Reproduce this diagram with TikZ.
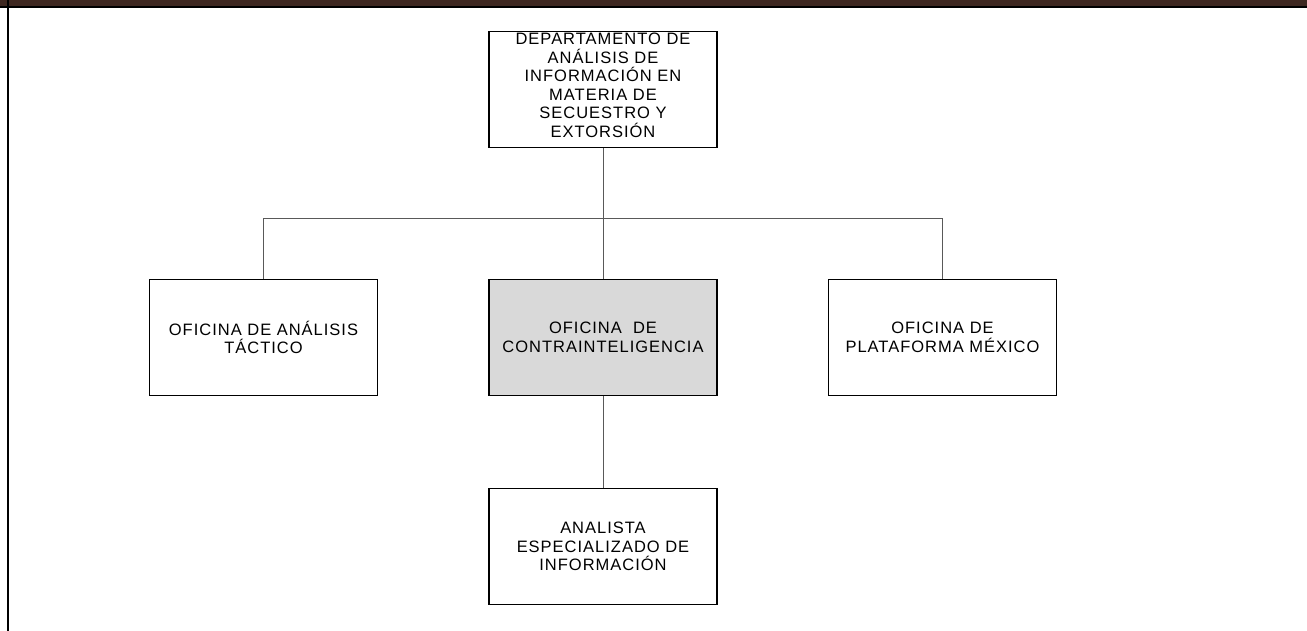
\documentclass[tikz,border=0pt]{standalone}
\usepackage{fontspec}
\setmainfont{Liberation Sans}[LetterSpace=6]
\usepackage{tikz}
\usetikzlibrary{calc}
\definecolor{barbrown}{HTML}{3E2720}
\definecolor{cigray}{HTML}{D9D9D9}
\tikzstyle{unit}=[draw=black,line width=1.6pt,fill=white,minimum width=228pt,minimum height=116pt,inner sep=0pt,align=center,font=\fontsize{16.5}{18.5}\selectfont]
\tikzstyle{conn}=[draw=black!65,line width=1pt]

\begin{document}
\begin{tikzpicture}[x=1pt,y=1pt]
      \useasboundingbox (0,0) rectangle (1307,-631);
      % marco de la pagina
      \fill[barbrown] (0,0) rectangle (1307,-7);
      \draw[line width=2pt] (0,-7.5) -- (1307,-7.5);
      \draw[line width=2pt] (8,0) -- (8,-631);

      % unidades
      \node[unit] (dep) at (603,-89.5) {DEPARTAMENTO DE\\ ANÁLISIS DE\\ INFORMACIÓN EN\\ MATERIA DE\\ SECUESTRO Y\\ EXTORSIÓN\\[-10pt]};
      \node[unit] (oat) at (263.5,-337.5) {OFICINA DE ANÁLISIS\\ TÁCTICO};
      \node[unit,fill=cigray] (ofc) at (603,-337.5) {OFICINA \ DE\\ CONTRAINTELIGENCIA};
      \node[unit] (opm) at (942.5,-337.5) {OFICINA DE\\ PLATAFORMA MÉXICO};
      \node[unit] (aei) at (603,-546.5) {ANALISTA\\ ESPECIALIZADO DE\\ INFORMACIÓN};
      \coordinate (bus) at (603,-219);

      % lineas de mando
      \draw[conn] (dep.south) -- (ofc.north);
      \draw[conn] (oat.north) -- (oat.north |- bus) -- (opm.north |- bus) -- (opm.north);
      \draw[conn] (ofc.south) -- (aei.north);
    \end{tikzpicture}
\end{document}
